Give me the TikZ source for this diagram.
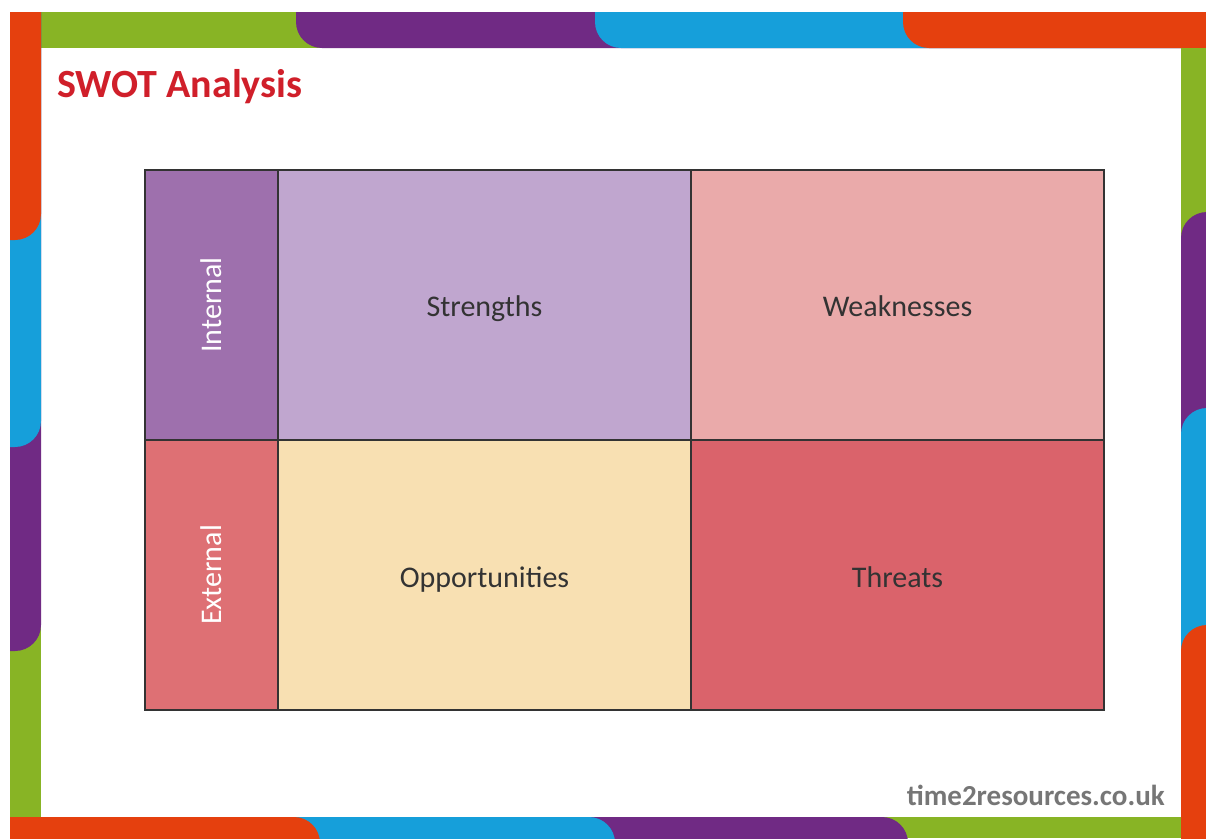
\documentclass[tikz,border=0pt]{standalone}
\usepackage{fontspec}
\setmainfont{Carlito}
\definecolor{bgreen}{HTML}{88B425}
\definecolor{bpurple}{HTML}{702A84}
\definecolor{bblue}{HTML}{169FDA}
\definecolor{borange}{HTML}{E5400E}
\definecolor{cint}{HTML}{9E70AD}
\definecolor{cstr}{HTML}{C0A6CF}
\definecolor{cweak}{HTML}{EAAAAA}
\definecolor{cext}{HTML}{DE7074}
\definecolor{copp}{HTML}{F8E0B2}
\definecolor{cthr}{HTML}{DA636B}
\definecolor{ctitle}{HTML}{D01F2A}
\definecolor{cfoot}{HTML}{767676}
\definecolor{ctext}{HTML}{333333}
\definecolor{cline}{HTML}{333333}
\tikzset{
  cell/.style={draw=cline, line width=1.3pt, inner sep=0pt, minimum height=270pt},
  sidecell/.style={cell, minimum width=133pt},
  maincell/.style={cell, minimum width=413pt},
  celltext/.style={anchor=base, inner sep=0pt, text=ctext, font=\fontsize{30}{36}\selectfont},
  sidelabel/.style={rotate=90, text=white, font=\fontsize{30}{36}\selectfont, inner sep=0pt},
}
\begin{document}
\begin{tikzpicture}[x=1pt,y=-1pt]
\useasboundingbox (0,0) rectangle (1206,838);
\fill[white] (0,0) rectangle (1206,838);
\begin{scope}
\clip (0,0) rectangle (1206,838);
% top strip
\fill[bgreen] (41,12) rectangle (1206,48);
\fill[bpurple] (296,12) -- (1206,12) -- (1206,48) -- (322,48) arc[start angle=90,end angle=180,radius=26] -- cycle;
\fill[bblue] (595,12) -- (1206,12) -- (1206,48) -- (621,48) arc[start angle=90,end angle=180,radius=26] -- cycle;
\fill[borange] (903,12) -- (1206,12) -- (1206,48) -- (929,48) arc[start angle=90,end angle=180,radius=26] -- cycle;
% left strip
\fill[bgreen] (10,12) rectangle (41,818);
\fill[bpurple] (10,12) -- (41,12) -- (41,625) arc[start angle=0,end angle=90,radius=26] -- (10,651) -- cycle;
\fill[bblue] (10,12) -- (41,12) -- (41,421) arc[start angle=0,end angle=90,radius=26] -- (10,447) -- cycle;
\fill[borange] (10,12) -- (41,12) -- (41,214) arc[start angle=0,end angle=90,radius=26] -- (10,240) -- cycle;
% bottom strip
\fill[bgreen] (10,817) rectangle (1181,838);
\fill[bpurple] (10,850) -- (10,817) -- (882,817) arc[start angle=-90,end angle=0,radius=26] -- (908,850) -- cycle;
\fill[bblue] (10,850) -- (10,817) -- (589,817) arc[start angle=-90,end angle=0,radius=26] -- (615,850) -- cycle;
\fill[borange] (10,850) -- (10,817) -- (294,817) arc[start angle=-90,end angle=0,radius=26] -- (320,850) -- cycle;
% right strip
\fill[bgreen] (1181,48) rectangle (1206,838);
\fill[bpurple] (1220,850) -- (1181,850) -- (1181,238) arc[start angle=180,end angle=270,radius=26] -- (1220,212) -- cycle;
\fill[bblue] (1220,850) -- (1181,850) -- (1181,434) arc[start angle=180,end angle=270,radius=26] -- (1220,408) -- cycle;
\fill[borange] (1220,850) -- (1181,850) -- (1181,651) arc[start angle=180,end angle=270,radius=26] -- (1220,625) -- cycle;
\end{scope}
% title and footer
\node[anchor=base west, inner sep=0pt, text=ctitle, font=\fontsize{40}{48}\selectfont\bfseries] (title) at (57,97) {SWOT Analysis};
\node[anchor=base east, inner sep=0pt, text=cfoot, font=\fontsize{29}{35}\selectfont\bfseries] (foot) at (1165,805) {time2resources.co.uk};
% SWOT grid
\node[sidecell, fill=cint] (int) at (211.5,305) {};
\node[maincell, fill=cstr] (str) at (484.5,305) {};
\node[maincell, fill=cweak] (weak) at (897.5,305) {};
\node[sidecell, fill=cext] (ext) at (211.5,575) {};
\node[maincell, fill=copp] (opp) at (484.5,575) {};
\node[maincell, fill=cthr] (thr) at (897.5,575) {};
\node[celltext] (strlabel) at (484.5,316) {Strengths};
\node[celltext] (weaklabel) at (897.5,316) {Weaknesses};
\node[celltext] (opplabel) at (484.5,587) {Opportunities};
\node[celltext] (thrlabel) at (897.5,587) {Threats};
\node[sidelabel] (intlabel) at (int.center) {Internal};
\node[sidelabel] (extlabel) at (ext.center) {External};
\end{tikzpicture}
\end{document}
